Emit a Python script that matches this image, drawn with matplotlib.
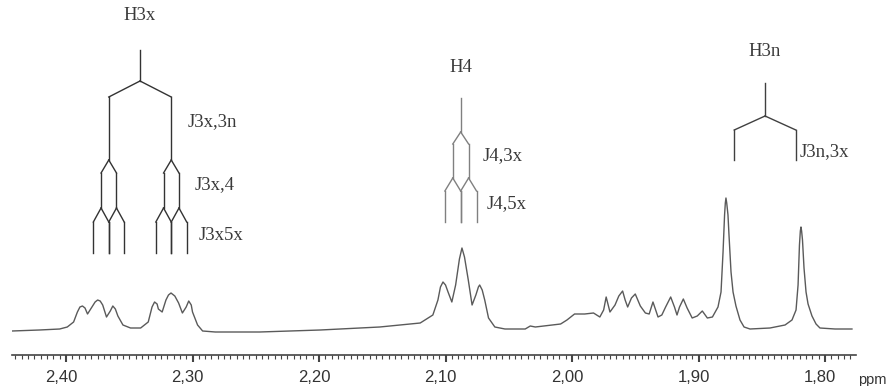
import matplotlib
matplotlib.use("Agg")
import matplotlib.pyplot as plt
import matplotlib.transforms as mtransforms
from matplotlib.ticker import MultipleLocator, FixedLocator

# spectrum trace (chemical shift in ppm, intensity)
ppm = [2.4427, 2.421, 2.405, 2.399, 2.394, 2.391, 2.389, 2.387, 2.385, 2.383, 2.380, 2.377, 2.375,
       2.373, 2.371, 2.368, 2.365, 2.363, 2.361, 2.359, 2.355, 2.349, 2.341, 2.335, 2.332, 2.330, 2.328, 2.327,
       2.324, 2.321, 2.319, 2.317, 2.314, 2.311, 2.308, 2.305, 2.303, 2.301, 2.300, 2.296, 2.292,
       2.282, 2.247, 2.199, 2.152, 2.120, 2.110, 2.106, 2.104, 2.102, 2.100, 2.098, 2.095,
       2.092, 2.089, 2.087, 2.085, 2.082, 2.079, 2.076, 2.074, 2.073, 2.071, 2.069, 2.066, 2.061, 2.053,
       2.037, 2.033, 2.029, 2.009, 2.004, 1.998, 1.990, 1.983, 1.978, 1.975,
       1.973, 1.970, 1.966, 1.963, 1.960, 1.958, 1.956, 1.953, 1.950, 1.946,
       1.942, 1.939, 1.936, 1.932, 1.929, 1.926, 1.922, 1.919, 1.917, 1.915,
       1.912, 1.909, 1.905, 1.901, 1.897, 1.893, 1.889, 1.8846, 1.8822, 1.8806,
       1.8794, 1.8788, 1.8783, 1.8777, 1.8767, 1.8759, 1.8743, 1.8727, 1.8704, 1.8672, 1.8640, 1.8593,
       1.8435, 1.8316, 1.8261, 1.8229, 1.8213, 1.8202, 1.8195, 1.8190, 1.8185, 1.8178, 1.8166, 1.8150,
       1.8134, 1.8103, 1.8071, 1.8040, 1.7921, 1.7787]
intensity = [24, 25, 26, 28, 33, 43, 48, 49, 47, 41, 47, 53, 55,
             54, 50, 38, 44, 49, 46, 39, 30, 27, 27, 33, 48, 53, 51, 46,
             43, 55, 60, 62, 59, 52, 42, 48, 54, 50, 43, 30, 24,
             23, 23, 25, 28, 32, 40, 55, 68, 73, 70, 63, 53,
             70, 96, 107, 98, 75, 50, 60, 68, 70, 65, 55, 37, 28, 26,
             26, 29, 28, 31, 35, 41, 41, 42, 38, 45,
             58, 43, 50, 59, 64, 55, 48, 57, 61, 49,
             42, 41, 53, 38, 40, 48, 58, 48, 40, 48,
             56, 47, 37, 39, 44, 37, 38, 48, 63, 103,
             140, 152, 157, 152, 140, 120, 83, 63, 49, 35, 28, 26,
             27, 30, 35, 45, 70, 110, 124, 128, 124, 115, 87, 63,
             51, 39, 31, 27, 26, 26]

# multiplet trees: centre shift and couplings (ppm)
h3x_center = 2.3415
h3x_couplings = [0.0494, 0.0122, 0.0122]
h4_center = 2.0880
h4_couplings = [0.0125, 0.0125]
h3n_center = 1.8474
h3n_couplings = [0.0487]

tick_values = [2.40, 2.30, 2.20, 2.10, 2.00, 1.90, 1.80]
tick_labels = ["2,40", "2,30", "2,20", "2,10", "2,00", "1,90", "1,80"]


def draw_tree(ax, center, couplings, levels, color):
    # levels: stem top, stem bottom, then (diag end, vertical end) per coupling
    ax.plot([center, center], [levels[0], levels[1]], color=color, lw=1.0)
    lines = [center]
    top = levels[1]
    for k, J in enumerate(couplings):
        y_diag = levels[2 + 2 * k]
        y_end = levels[3 + 2 * k]
        new = []
        for c in lines:
            for s in (c + J / 2, c - J / 2):
                ax.plot([c, s], [top, y_diag], color=color, lw=1.0)
                ax.plot([s, s], [y_diag, y_end], color=color, lw=1.0)
                new.append(s)
        lines = new
        top = y_end


fig = plt.figure(figsize=(8.87, 3.86), dpi=100)
ax = fig.add_axes([12 / 887, 31 / 386, 844 / 887, 355 / 386])

ax.plot(ppm, intensity, color="#5a5a5a", lw=1.0)

draw_tree(ax, h3x_center, h3x_couplings, [305, 274, 258, 195, 182, 147, 133, 102], "#333333")
draw_tree(ax, h4_center, h4_couplings, [257, 223, 211, 177, 164, 133], "#808080")
draw_tree(ax, h3n_center, h3n_couplings, [272, 239, 225, 195], "#404040")

serif = dict(family="Liberation Serif", fontsize=13.5, color="#3a3a3a", va="center")
ax.text(h3x_center, 339, "H3x", ha="center", **serif)
ax.text(2.3036, 233, "J3x,3n", ha="left", **serif)
ax.text(2.2980, 170, "J3x,4", ha="left", **serif)
ax.text(2.2949, 120, "J3x5x", ha="left", **serif)
ax.text(h4_center, 287, "H4", ha="center", **serif)
ax.text(2.0706, 199, "J4,3x", ha="left", **serif)
ax.text(2.0672, 151, "J4,5x", ha="left", **serif)
ax.text(h3n_center, 303, "H3n", ha="center", **serif)
ax.text(1.8198, 203, "J3n,3x", ha="left", **serif)

ax.set_xlim(2.4427, 1.7755)
ax.set_ylim(0, 355)
for side in ("left", "right", "top"):
    ax.spines[side].set_visible(False)
ax.spines["bottom"].set_color("#444444")
ax.spines["bottom"].set_linewidth(1.2)
ax.set_yticks([])
ax.xaxis.set_major_locator(FixedLocator(tick_values))
ax.set_xticklabels(tick_labels, family="Liberation Sans", fontsize=12, color="#333333")
ax.xaxis.set_minor_locator(MultipleLocator(0.005))
ax.tick_params(axis="x", which="major", direction="out", length=5, width=1.5, color="#444444", pad=6)
ax.tick_params(axis="x", which="minor", direction="out", length=3, width=0.8, color="#444444")

shift = mtransforms.ScaledTranslation(-5 / 100, 0, fig.dpi_scale_trans)
for lbl in ax.get_xticklabels():
    lbl.set_transform(lbl.get_transform() + shift)

fig.text(858 / 887, 6 / 386, "ppm", family="Liberation Sans", fontsize=10.5, color="#333333",
         ha="left", va="center")

fig.savefig("out.png", dpi=100)
